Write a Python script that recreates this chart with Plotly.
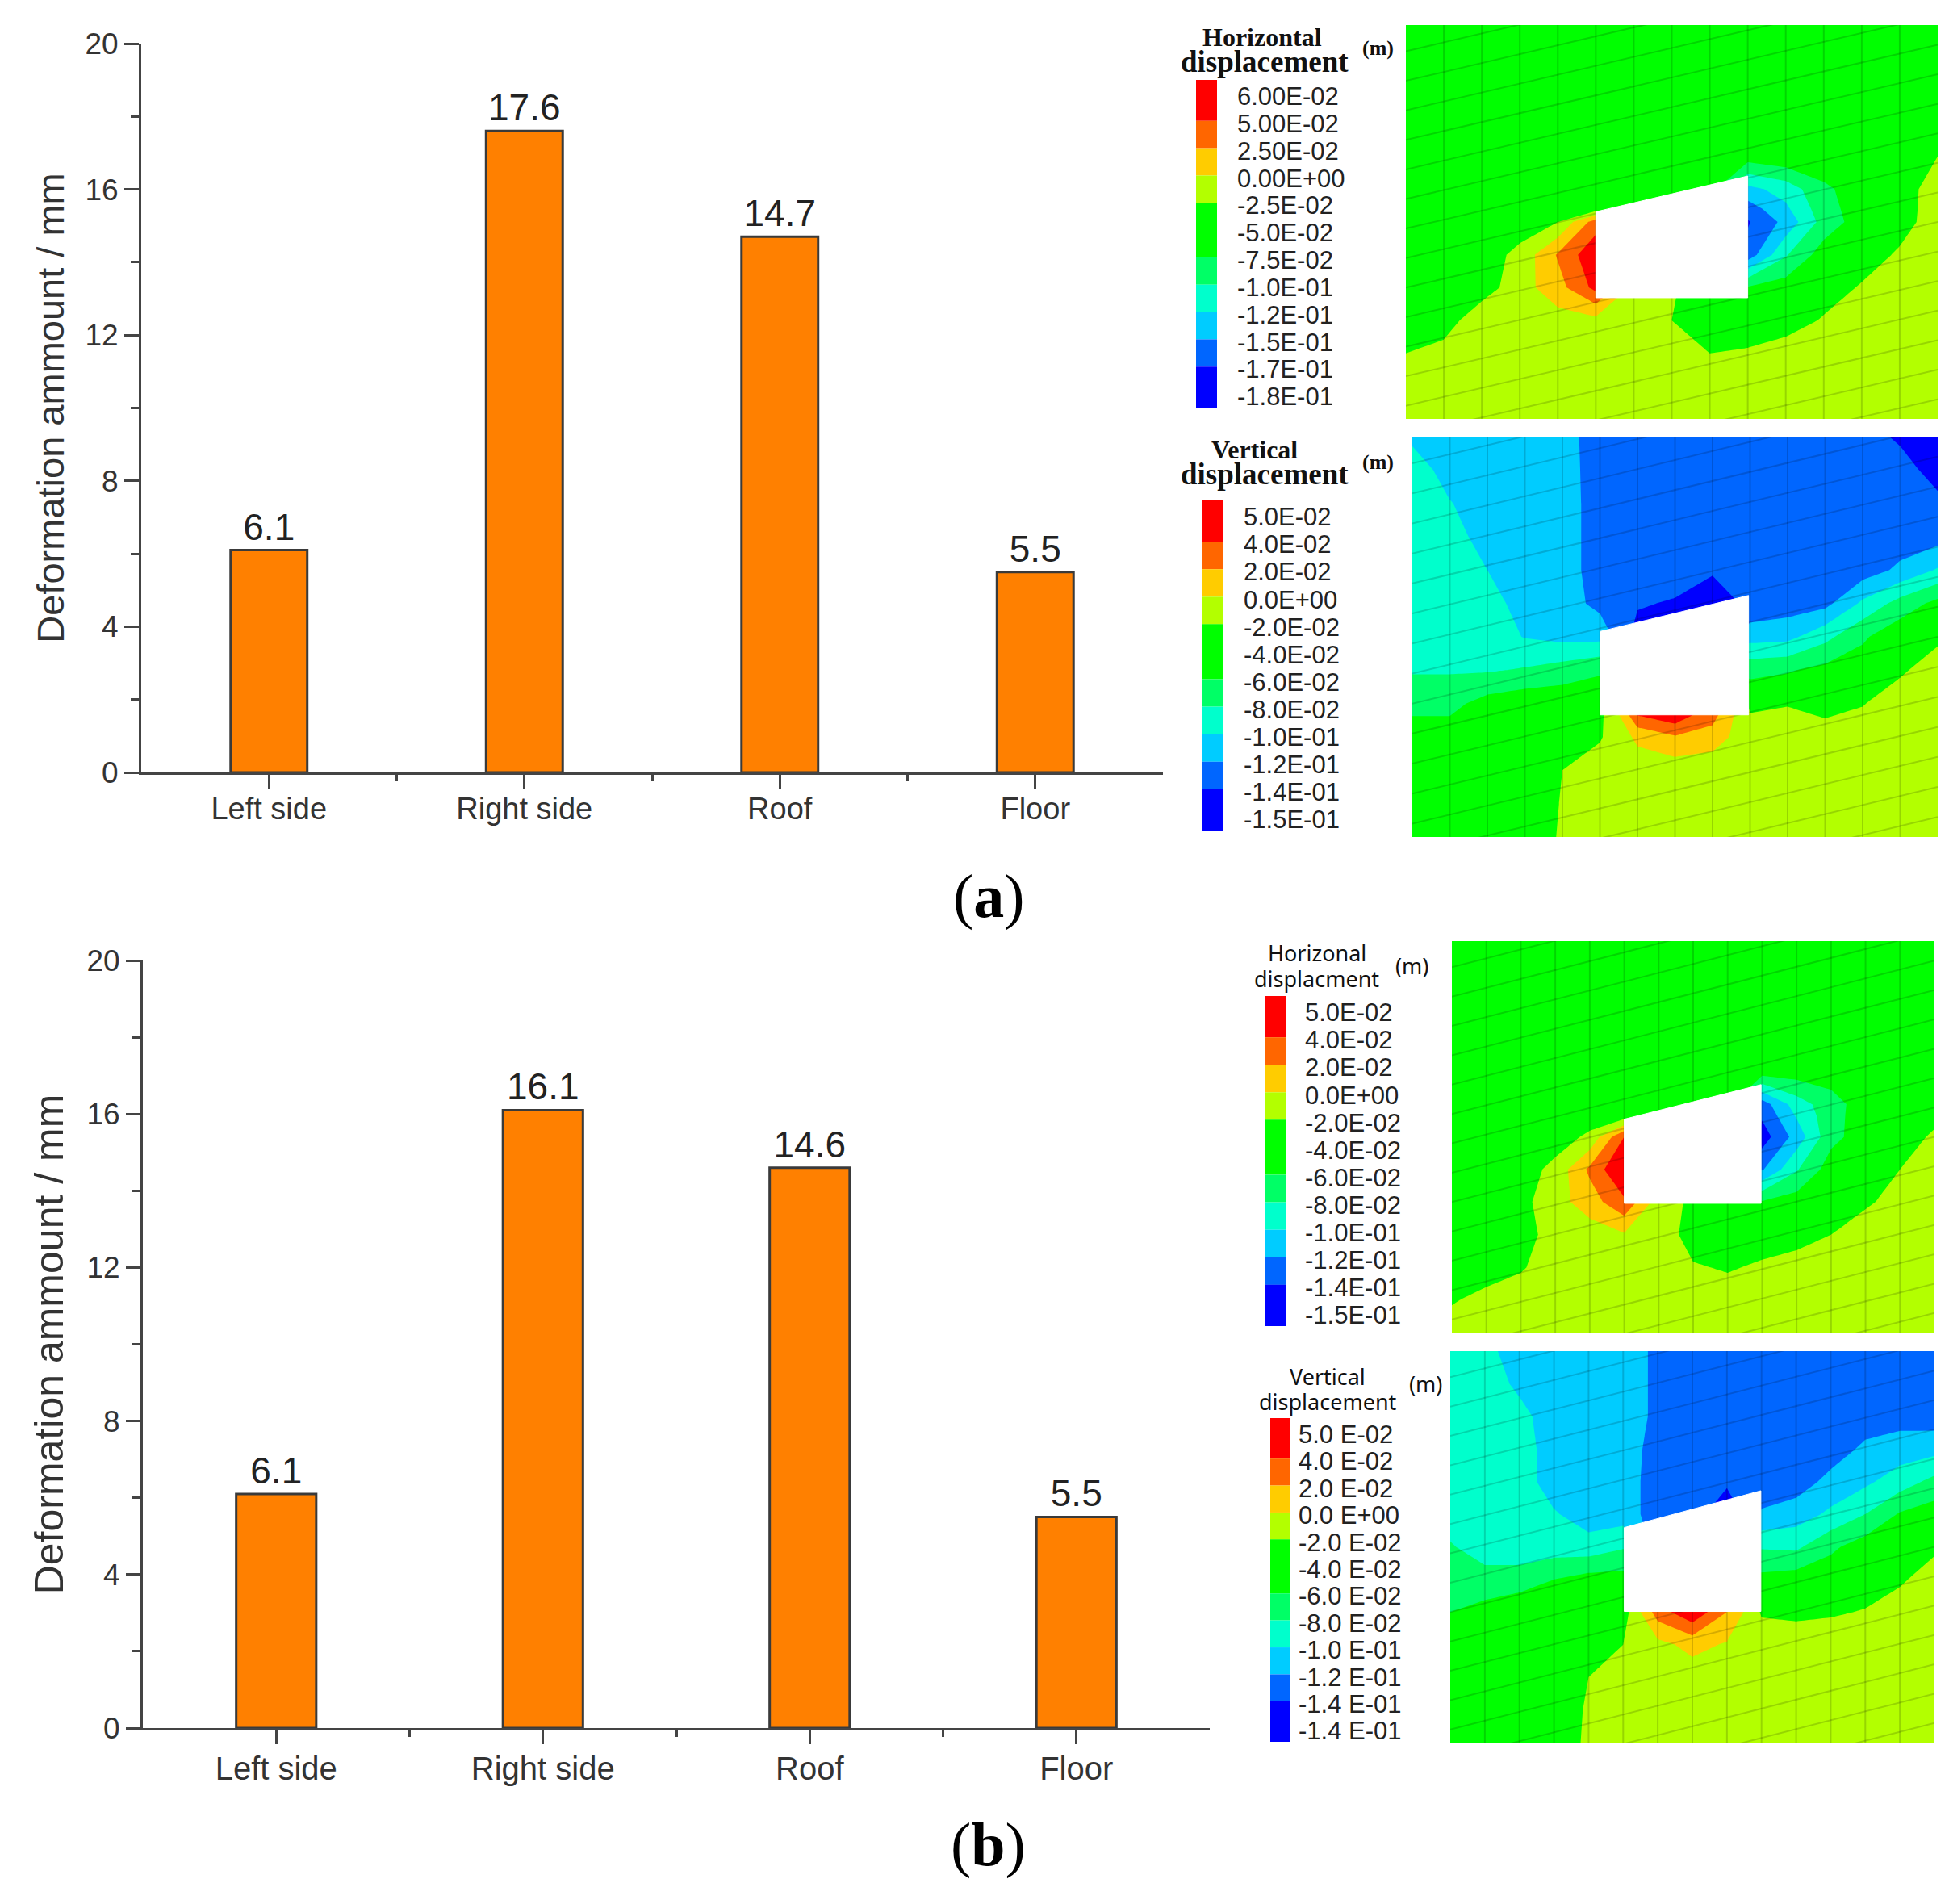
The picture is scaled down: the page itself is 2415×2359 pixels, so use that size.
import plotly.graph_objects as go

# ---------- bar data ----------
categories = ["Left side", "Right side", "Roof", "Floor"]
deformation_a = [6.1, 17.6, 14.7, 5.5]
deformation_b = [6.1, 16.1, 14.6, 5.5]
y_major = [0, 4, 8, 12, 16, 20]
y_minor = [2, 6, 10, 14, 18]

# ---------- legend data ----------
band_colors = ["#0000FF", "#0066FF", "#00CCFF", "#00FFCC", "#00FF66",
               "#00FF00", "#B3FF00", "#FFCC00", "#FF6600", "#FF0000"]
band_rows = [1.5, 1, 1, 1, 2, 1, 1, 1, 1, 1.5]          # red at top -> blue
labels_a_h = ["6.00E-02", "5.00E-02", "2.50E-02", "0.00E+00", "-2.5E-02", "-5.0E-02",
              "-7.5E-02", "-1.0E-01", "-1.2E-01", "-1.5E-01", "-1.7E-01", "-1.8E-01"]
labels_a_v = ["5.0E-02", "4.0E-02", "2.0E-02", "0.0E+00", "-2.0E-02", "-4.0E-02",
              "-6.0E-02", "-8.0E-02", "-1.0E-01", "-1.2E-01", "-1.4E-01", "-1.5E-01"]
labels_b_h = list(labels_a_v)
labels_b_v = ["5.0 E-02", "4.0 E-02", "2.0 E-02", "0.0 E+00", "-2.0 E-02", "-4.0 E-02",
              "-6.0 E-02", "-8.0 E-02", "-1.0 E-01", "-1.2 E-01", "-1.4 E-01", "-1.4 E-01"]

# ---------- displacement grids, as legend band number per mesh node ----------
# 0 blue ... 5 green, 6 lime, 7 yellow, 8 orange, 9 red
mesh_cols = list(range(15))
mesh_rows = list(range(13))
rows_a_h = [0, 1, 2, 3, 4, 5, 5.6, 6, 7, 8, 9, 10, 11, 12]
rows_b_h = [0, 1, 2, 3, 4, 5, 5.35, 6, 7, 8, 9, 10, 11, 12]

grid_a_h = [
    [5]*15, [5]*15, [5]*15, [5]*15,
    [5, 5, 5, 5, 5, 5, 5, 5, 5, 5, 5.3, 5.2, 5, 5, 5.5],
    [5, 5, 5, 5, 5, 5, 5, 5, 5, 2.2, 2.9, 4.3, 5, 5, 6],
    [5, 5, 5, 5, 5, 5, 5, 5, 5, 1.0, 2.3, 4.1, 5, 5.05, 6],
    [5, 5, 5, 5, 5.5, 8, 5, 5, 5, 0.4, 1.8, 3.9, 5, 5.1, 6],
    [5, 5, 5, 5.77, 7.6, 9.3, 5, 5, 5, 0.9, 3.4, 5, 5, 5.64, 6],
    [5, 5, 5, 6.07, 7.1, 8.8, 6.2, 5.6, 5, 4.6, 5, 5, 5.6, 6, 6],
    [5, 5, 6.2, 6, 6.1, 6.2, 6.1, 5.5, 5, 5, 5, 5.6, 6, 6, 6],
    [5.5, 5.86, 6, 6, 6, 6, 6, 5.8, 5.5, 5.6, 6, 6, 6, 6, 6],
    [6]*15, [6]*15,
]
grid_a_v = [
    [2.3, 2, 2, 2, 1.9, 1, 1, 1, 1, 1, 1, 1, 1, 0.3, 0],
    [3, 2.1, 2, 2, 1.95, 1, 1, 1, 1, 1, 1, 1, 1, 1, 0],
    [3, 2.55, 2, 2, 2, 1, 1, 1, 1, 1, 1, 1, 1, 1, 0.8],
    [3, 3, 2, 2, 2, 1, 1, 1, 1, 1, 1, 1, 1, 1, 1.1],
    [3, 3, 2.5, 2, 2, 1, 1, 1, 0.6, 1, 1, 1, 1, 1.7, 2.6],
    [3, 3, 3, 2, 2, 1.2, 0.6, 0.4, 0, 0.7, 1, 1.2, 2.7, 3.9, 4.8],
    [3, 3, 3, 2.45, 2.2, 2.2, 0.1, 0, 0, 2.1, 2.2, 3.2, 4.35, 5.2, 5.3],
    [3.4, 3.4, 3.4, 3.6, 3.95, 4.4, 5, 5, 5, 4.2, 4.4, 4.8, 5, 5.35, 6],
    [4.2, 4.2, 4.9, 5.2, 5.2, 5, 9.5, 10.2, 8.6, 5.3, 5.45, 5.1, 5.45, 6, 6],
    [5, 5, 5, 5, 5, 5.4, 6.7, 7.4, 6.9, 6, 6, 6, 6, 6, 6],
    [5, 5, 5, 5, 5.5, 6, 6, 5.9, 6, 6, 6, 6, 6, 6, 6],
    [5, 5, 5, 5, 5.55, 6, 6, 6, 6, 6, 6, 6, 6, 6, 6],
    [5, 5, 5, 5, 5.6, 6, 6, 6, 6, 6, 6, 6, 6, 6, 6],
]
grid_b_h = [
    [5]*15, [5]*15, [5]*15, [5]*15, [5]*15,
    [5, 5, 5, 5, 5, 5, 5, 5, 5, 1, 3, 4.1, 5, 5, 5],
    [5, 5, 5, 5, 5, 4.9, 5, 5, 5, 0.65, 2.6, 4.15, 5, 5, 5.23],
    [5, 5, 5, 5, 5.7, 8.5, 5, 5, 5, 0, 1.9, 4.2, 5, 5, 5.66],
    [5, 5, 5, 5.8, 7.7, 9.6, 5, 5, 5, 1.4, 3.4, 5, 5, 5.5, 6],
    [5, 5, 5.2, 6.1, 7, 8.3, 6, 5.3, 5, 4.6, 5, 5, 5.3, 6, 6],
    [5, 5, 5, 6, 6, 6.4, 6.2, 5, 5, 5, 5, 5.5, 6.2, 6, 6],
    [5, 5, 5.4, 6, 6, 6, 6, 5.6, 5.4, 5.65, 6.05, 6, 6, 6, 6],
    [5.4, 5.83, 6, 6, 6, 6, 6, 6, 6, 6, 6, 6, 6, 6, 6],
    [6]*15,
]
grid_b_v = [
    [3, 2.8, 2, 2, 2, 2, 1.3, 1, 1, 1, 1, 1, 1, 1, 1],
    [3, 3, 2.3, 2, 2, 2, 1.3, 1, 1, 1, 1, 1, 1, 1, 1],
    [3, 3, 2.8, 2, 2, 2, 1.3, 1, 1, 1, 1, 1, 1, 1.1, 1],
    [3, 3, 3, 2, 2, 2, 1.1, 1, 1, 1, 1, 1, 1.7, 2, 2.15],
    [3, 3, 3, 2, 2, 2, 1, 1, 0.7, 1, 1, 1.8, 2.3, 3, 3.8],
    [3, 3, 3, 2.6, 2, 2, 1, 1, -0.3, 1.6, 2, 2.7, 3.5, 4.6, 5],
    [3.6, 3, 3, 3, 2.9, 3.4, 1, 1, 1, 3.4, 3.3, 4.3, 5, 5, 5.3],
    [4, 3.9, 3.9, 4.5, 4.9, 4.9, 5, 5, 5, 4.8, 5, 5.1, 5.1, 5.35, 6],
    [4.5, 4.85, 5.4, 5, 5, 5, 8, 9.3, 7.5, 5.4, 5.3, 5.4, 5.55, 6, 6],
    [5, 5, 5, 5, 5, 5.5, 6.2, 6.8, 6.4, 6, 6, 6, 6, 6, 6],
    [5, 5, 5, 5, 5.5, 6, 6, 6, 6, 6, 6, 6, 6, 6, 6],
    [5, 5, 5, 5, 5.6, 6, 6, 6, 6, 6, 6, 6, 6, 6, 6],
    [5, 5, 5, 5, 5.65, 6, 6, 6, 6, 6, 6, 6, 6, 6, 6],
]

# excavation outline in mesh units (col, row)
opening_a_h = ([5, 9, 9, 5, 5], [5.69, 4.60, 8.31, 8.31, 5.69])
opening_a_v = ([5, 8.96, 8.96, 5, 5], [5.84, 4.76, 8.34, 8.34, 5.84])
opening_b_h = ([5, 8.97, 8.97, 5, 5], [5.46, 4.40, 8.04, 8.04, 5.46])
opening_b_v = ([5.03, 8.98, 8.98, 5.03, 5.03], [5.41, 4.28, 7.98, 7.98, 5.41])

# skewed mesh lines: row at the left edge, rise over the whole width
skew_starts = [0.8, 1.7, 2.6, 3.5, 4.4, 5.3, 6.2, 7.1, 8.0, 8.9, 9.8, 10.7, 11.6, 12.5, 13.4, 14.3, 15.2]
skew_rise = 3.8

# The page's body keeps its default 8 px margin, so the figure sits inside it.
OFF = 8
W, H = 2415 - 2 * OFF, 2359 - 20
AXIS = "#444444"
TEXT = "#333333"
SANS = "Liberation Sans, Arial, sans-serif"
SERIF = "Liberation Serif, Times New Roman, serif"

fig = go.Figure()
layout = {}
counter = [0]


def new_axes(x0, x1, y0, y1):
    counter[0] += 1
    n = counter[0]
    sfx = "" if n == 1 else str(n)
    return (f"x{sfx}", f"y{sfx}", f"xaxis{sfx}", f"yaxis{sfx}",
            [(x0 - OFF) / W, (x1 - OFF) / W], [1 - (y1 - OFF) / H, 1 - (y0 - OFF) / H])


def bar_panel(values, box, tick_size, title_size, standoff, label_shift):
    xa, ya, xk, yk, xd, yd = new_axes(*box)
    fig.add_trace(go.Bar(
        x=[1, 2, 3, 4], y=values, width=0.3, xaxis=xa, yaxis=ya,
        marker=dict(color="#FF8000", line=dict(color="#3A3A3A", width=3)),
        text=[str(v) for v in values], textposition="outside", cliponaxis=False,
        textfont=dict(family=SANS, size=46, color="#222222"), showlegend=False))
    layout[xk] = dict(
        domain=xd, anchor=ya, range=[0.5, 4.5], tickvals=[1, 2, 3, 4], ticktext=categories,
        automargin=False, ticklabelstandoff=label_shift,
        ticks="outside", ticklen=17, tickwidth=3, tickcolor=AXIS, showline=True,
        linecolor=AXIS, linewidth=3, showgrid=False, zeroline=False,
        tickfont=dict(family=SANS, size=tick_size, color=TEXT),
        minor=dict(tickvals=[1.5, 2.5, 3.5], ticks="outside", ticklen=8, tickwidth=3,
                   tickcolor=AXIS, showgrid=False))
    layout[yk] = dict(
        domain=yd, anchor=xa, range=[0, 20], tickvals=y_major, ticks="outside", ticklen=18,
        automargin=False,
        tickwidth=3, tickcolor=AXIS, showline=True, linecolor=AXIS, linewidth=3,
        showgrid=False, zeroline=False, tickfont=dict(family=SANS, size=37, color=TEXT),
        title=dict(text="Deformation ammount / mm", standoff=standoff,
                   font=dict(family=SANS, size=title_size, color=TEXT)),
        minor=dict(tickvals=y_minor, ticks="outside", ticklen=10, tickwidth=3,
                   tickcolor=AXIS, showgrid=False))


def map_panel(grid, rows, opening, box):
    xa, ya, xk, yk, xd, yd = new_axes(*box)
    n = len(band_colors)
    scale = []
    for i, c in enumerate(band_colors):
        scale += [[i / n, c], [(i + 1) / n, c]]
    fig.add_trace(go.Contour(
        x=mesh_cols, y=rows, z=grid, xaxis=xa, yaxis=ya, showscale=False,
        colorscale=scale, autocontour=False, zmin=0, zmax=9,
        contours=dict(start=0.5, end=8.5, size=1, coloring="fill", showlines=False),
        line=dict(width=0, smoothing=0), hoverinfo="skip"))
    mx, my = [], []
    for c in mesh_cols[1:-1]:
        mx += [c, c, None]
        my += [mesh_rows[0], mesh_rows[-1], None]
    for s in skew_starts:
        mx += [mesh_cols[0], mesh_cols[-1], None]
        my += [s, s - skew_rise, None]
    fig.add_trace(go.Scatter(x=mx, y=my, mode="lines", xaxis=xa, yaxis=ya, showlegend=False,
                             line=dict(color="rgba(0,0,0,0.16)", width=2), hoverinfo="skip"))
    fig.add_trace(go.Scatter(x=opening[0], y=opening[1], mode="lines", fill="toself",
                             fillcolor="#FFFFFF", line=dict(color="#FFFFFF", width=1),
                             xaxis=xa, yaxis=ya, showlegend=False, hoverinfo="skip"))
    layout[xk] = dict(domain=xd, anchor=ya, range=[0, 14], visible=False, automargin=False)
    layout[yk] = dict(domain=yd, anchor=xa, range=[12, 0], visible=False, automargin=False)


def legend_panel(labels, box, standoff, size=31):
    xa, ya, xk, yk, xd, yd = new_axes(*box)
    base = 0
    for h, c in zip(band_rows, band_colors[::-1]):
        fig.add_trace(go.Bar(x=[0], y=[h], base=[base], width=1, xaxis=xa, yaxis=ya,
                             marker=dict(color=c, line=dict(width=0)),
                             showlegend=False, hoverinfo="skip"))
        base += h
    layout[xk] = dict(domain=xd, anchor=ya, range=[-0.5, 0.5], visible=False, automargin=False)
    layout[yk] = dict(domain=yd, anchor=xa, range=[12, 0], side="right", automargin=False,
                      tickvals=[i + 0.6 for i in range(len(labels))], ticktext=labels,
                      ticks="", showline=False, showgrid=False, zeroline=False,
                      ticklabelstandoff=standoff,
                      tickfont=dict(family=SANS, size=size, color="#222222"))


bar_panel(deformation_a, (175, 1441, 54, 957), 38, 47, 11, -8)
bar_panel(deformation_b, (177, 1499, 1190, 2141), 40, 50, 13, -4)

map_panel(grid_a_h, rows_a_h, opening_a_h, (1742, 2401, 31, 519))
map_panel(grid_a_v, mesh_rows, opening_a_v, (1750, 2401, 541, 1037))
map_panel(grid_b_h, rows_b_h, opening_b_h, (1799, 2397, 1166, 1651))
map_panel(grid_b_v, mesh_rows, opening_b_v, (1797, 2397, 1674, 2159))

legend_panel(labels_a_h, (1482, 1508, 99, 505), 24)
legend_panel(labels_a_v, (1490, 1516, 620, 1029), 24)
legend_panel(labels_b_h, (1568, 1594, 1234, 1643), 22)
legend_panel(labels_b_v, (1574, 1598, 1757, 2158), 10)


def note(text, x, y, family, size, color="#111111"):
    return dict(text=text, x=(x - OFF) / W, y=1 - (y - OFF) / H, xref="paper", yref="paper",
                showarrow=False, xanchor="center", yanchor="middle",
                font=dict(family=family, size=size, color=color))


NOTO = "Noto Sans, sans-serif"
annotations = [
    note("<b>Horizontal</b>", 1564, 46, SERIF, 32),
    note("<b>displacement</b>", 1567, 77, SERIF, 37),
    note("<b>(m)</b>", 1707, 60, SERIF, 26),
    note("<b>Vertical</b>", 1554, 557, SERIF, 32),
    note("<b>displacement</b>", 1567, 587, SERIF, 37),
    note("<b>(m)</b>", 1707, 572, SERIF, 26),
    note("Horizonal", 1632, 1180, NOTO, 27),
    note("displacment", 1632, 1212, NOTO, 27),
    note("(m)", 1749, 1196, NOTO, 27),
    note("Vertical", 1645, 1705, NOTO, 27),
    note("displacement", 1646, 1737, NOTO, 27),
    note("(m)", 1766, 1715, NOTO, 27),
    note("(<b>a</b>)", 1225, 1110, SERIF, 76, "#000000"),
    note("(<b>b</b>)", 1224, 2285, SERIF, 76, "#000000"),
]

fig.update_layout(width=W, height=H, margin=dict(l=0, r=0, t=0, b=0), paper_bgcolor="white",
                  plot_bgcolor="white", barmode="overlay", showlegend=False,
                  annotations=annotations, **layout)
fig.write_html("out.html")
